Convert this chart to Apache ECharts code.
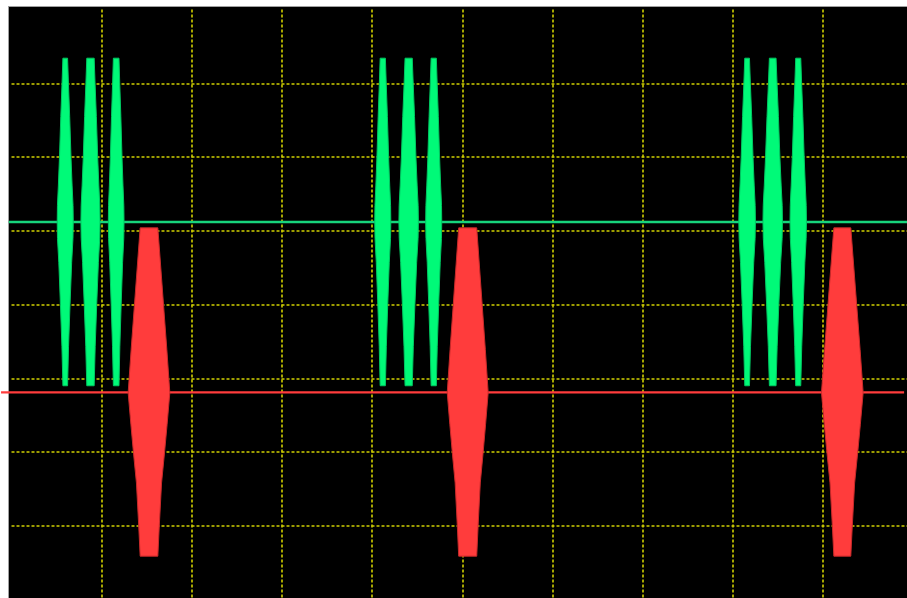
<!DOCTYPE html>
<html><head><meta charset="utf-8">
<script src="https://cdn.jsdelivr.net/npm/echarts@6/dist/echarts.min.js"></script>
<style>
html,body{margin:0;padding:0;background:#fff;width:907px;height:598px;overflow:hidden}
#screen{position:absolute;left:8px;top:6px;width:899px;height:592px;background:#000;border-left:1px solid #a0a0a0;border-top:1px solid #a0a0a0;box-sizing:border-box}
#chart{position:absolute;left:0;top:0;width:920px;height:610px}
</style></head><body>
<div id="screen"></div><div id="chart"></div>
<script>
// Axes in screen divisions: 10 horizontal, 8 vertical
const xDivisions = [0, 10];
const yDivisions = [-4, 4];

// Channel 1 (green) trace
const greenLevel = 1.12;
const greenTraceSpan = [-0.03, 9.94];
const greenPulseTimes   = [0.596, 0.876, 1.161, 4.118, 4.405, 4.683, 8.159, 8.443, 8.726];
const greenPulseMaxHalf = [0.089, 0.106, 0.087, 0.089, 0.108, 0.089, 0.092, 0.108, 0.091];
const greenPulseEndHalf = [0.026, 0.041, 0.031, 0.029, 0.040, 0.029, 0.026, 0.037, 0.028];
const greenPulseTop = 3.34;
const greenPulseBottom = -1.10;

// Channel 2 (red) trace
const redLevel = -1.19;
const redTraceSpan = [-0.116, 9.90];
const redPulseTimes   = [1.525, 5.060, 9.215];
const redPulseMaxHalf = [0.231, 0.227, 0.231];
const redPulseEndHalf = [0.098, 0.100, 0.094];
const redPulseTop = 1.04;
const redPulseBottom = -3.41;

// Envelope shapes: [fraction from top, fraction of width between end and max]
const greenProfile = [[0,0],[0.076,0.15],[0.178,0.37],[0.303,0.6],[0.39,0.8],[0.45,0.96],[0.5,1],[0.55,0.95],[0.623,0.72],[0.753,0.43],[0.881,0.17],[1,0]];
const redProfile = [[0,0],[0.37,0.75],[0.502,1],[0.6,0.77],[0.684,0.56],[0.777,0.31],[0.908,0.12],[1,0]];

function pulseRenderer(profile, top, bottom, fill, stroke) {
  return function (params, api) {
    const c = api.value(0), maxH = api.value(1), endH = api.value(2);
    const left = [], right = [];
    profile.forEach(function (p) {
      const lvl = top + (bottom - top) * p[0];
      const h = endH + (maxH - endH) * p[1];
      left.push(api.coord([c - h, lvl]));
      right.push(api.coord([c + h, lvl]));
    });
    return {
      type: 'polygon',
      shape: { points: left.concat(right.reverse()) },
      style: { fill: fill, stroke: stroke, lineWidth: 1 }
    };
  };
}

function traceRenderer(color, width) {
  return function (params, api) {
    const a = api.coord([api.value(0), api.value(2)]);
    const b = api.coord([api.value(1), api.value(2)]);
    return { type: 'line', shape: { x1: a[0], y1: a[1], x2: b[0], y2: b[1] },
      style: { stroke: color, lineWidth: width } };
  };
}

const gridLine = { show: true, showMinLine: false, showMaxLine: false,
  lineStyle: { color: '#d0d000', width: 1.6, type: [3, 2] } };

const chart = echarts.init(document.getElementById('chart'), null, { renderer: 'canvas' });
chart.setOption({
  animation: false,
  backgroundColor: 'transparent',
  grid: { left: 11.5, top: 9.5, width: 901.6, height: 590.2, containLabel: false, outerBoundsMode: 'none' },
  xAxis: { type: 'value', min: xDivisions[0], max: xDivisions[1], interval: 1,
    axisLine: { show: false }, axisTick: { show: false }, axisLabel: { show: false }, splitLine: gridLine },
  yAxis: { type: 'value', min: yDivisions[0], max: yDivisions[1], interval: 1,
    axisLine: { show: false }, axisTick: { show: false }, axisLabel: { show: false }, splitLine: gridLine },
  series: [
    { type: 'custom', name: 'CH1', clip: false, z: 2,
      renderItem: traceRenderer('#17d47c', 2.5),
      data: [[greenTraceSpan[0], greenTraceSpan[1], greenLevel]] },
    { type: 'custom', name: 'CH2', clip: false, z: 2,
      renderItem: traceRenderer('#ff3c3c', 2.3),
      data: [[redTraceSpan[0], redTraceSpan[1], redLevel]] },
    { type: 'custom', name: 'CH1 bursts', z: 3,
      renderItem: pulseRenderer(greenProfile, greenPulseTop, greenPulseBottom, '#00fa78', '#00c862'),
      data: greenPulseTimes.map(function (t, i) { return [t, greenPulseMaxHalf[i], greenPulseEndHalf[i]]; }) },
    { type: 'custom', name: 'CH2 bursts', z: 3,
      renderItem: pulseRenderer(redProfile, redPulseTop, redPulseBottom, '#ff3c3c', '#c82a2a'),
      data: redPulseTimes.map(function (t, i) { return [t, redPulseMaxHalf[i], redPulseEndHalf[i]]; }) }
  ]
});
</script></body></html>
